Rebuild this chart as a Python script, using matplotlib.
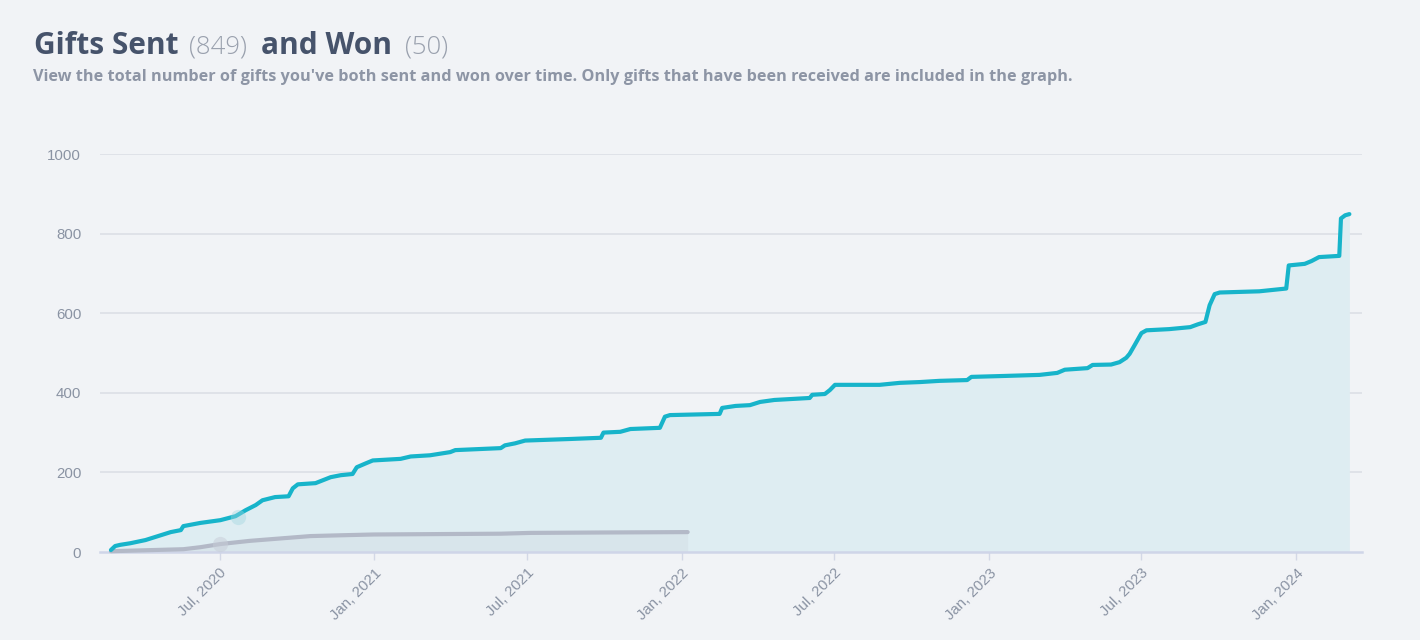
import numpy as np
import pandas as pd
import matplotlib
matplotlib.use("Agg")
import matplotlib.pyplot as plt
import matplotlib.dates as mdates

BG = "#f1f3f6"
SENT_COLOR = "#17b4ca"
WON_COLOR = "#b3b9c7"
TICK_COLOR = "#8a93a3"

# cumulative gifts sent
sent_dates = [
    "2020-02-23", "2020-02-28", "2020-03-05", "2020-03-17", "2020-04-04",
    "2020-04-22", "2020-05-04", "2020-05-16", "2020-05-19", "2020-06-08",
    "2020-07-02", "2020-07-20", "2020-08-01", "2020-08-13", "2020-08-21",
    "2020-09-05", "2020-09-21", "2020-09-26", "2020-10-02", "2020-10-23",
    "2020-11-10", "2020-11-22", "2020-12-06", "2020-12-11", "2020-12-22",
    "2020-12-30", "2021-02-01", "2021-02-13", "2021-03-08", "2021-04-01",
    "2021-04-07", "2021-05-31", "2021-06-05", "2021-06-17", "2021-06-29",
    "2021-08-22", "2021-09-27", "2021-09-30", "2021-10-20", "2021-11-01",
    "2021-12-06", "2021-12-12", "2021-12-18", "2022-02-15", "2022-02-18",
    "2022-03-06", "2022-03-23", "2022-04-04", "2022-04-21", "2022-06-02",
    "2022-06-05", "2022-06-20", "2022-06-26", "2022-07-02", "2022-08-24",
    "2022-09-17", "2022-10-11", "2022-11-03", "2022-12-06", "2022-12-11",
    "2023-01-14", "2023-03-02", "2023-03-23", "2023-04-01", "2023-04-28",
    "2023-05-04", "2023-05-26", "2023-06-05", "2023-06-13", "2023-06-17",
    "2023-06-23", "2023-07-01", "2023-07-07", "2023-08-03", "2023-08-28",
    "2023-09-06", "2023-09-15", "2023-09-20", "2023-09-26", "2023-10-02",
    "2023-11-18", "2023-12-20", "2023-12-23", "2024-01-11", "2024-01-19",
    "2024-01-28", "2024-02-21", "2024-02-23", "2024-02-28", "2024-03-04",
]
sent_total = [
    5, 15, 18, 22, 30,
    42, 50, 55, 65, 73,
    80, 90, 105, 118, 130,
    138, 140, 160, 170, 173,
    188, 193, 196, 213, 223,
    230, 234, 240, 243, 251,
    256, 261, 268, 273, 280,
    284, 287, 300, 302, 309,
    312, 340, 344, 347, 362,
    367, 369, 377, 382, 387,
    395, 397, 407, 420, 420,
    425, 427, 430, 432, 440,
    442, 445, 450, 458, 462,
    470, 471, 477, 488, 498,
    520, 550, 557, 560, 565,
    572, 578, 620, 648, 652,
    655, 662, 720, 724, 731,
    741, 744, 838, 846, 849,
]

# cumulative gifts won
won_dates = [
    "2020-02-23", "2020-05-19", "2020-06-08", "2020-07-02", "2020-08-06",
    "2020-09-11", "2020-10-17", "2020-11-22", "2020-12-31", "2021-05-31",
    "2021-07-05", "2021-09-27", "2022-01-08",
]
won_total = [2, 7, 12, 20, 28, 34, 40, 42, 44, 46, 48, 49, 50]

# faint hover dots visible on the chart
hover_sent = ("2020-07-23", 88)
hover_won = ("2020-07-02", 20)

sent_x = pd.to_datetime(sent_dates)
won_x = pd.to_datetime(won_dates)

fig = plt.figure(figsize=(14.2, 6.4), dpi=100, facecolor=BG)
ax = fig.add_axes([100 / 1420, 1 - 552 / 640, 1262 / 1420, 398 / 640])
ax.set_facecolor(BG)

ax.fill_between(sent_x, sent_total, 0, color="#deedf2", lw=0, zorder=1)
ax.fill_between(won_x, won_total, 0, color="#d6e2e9", lw=0, alpha=0.7, zorder=2)

ax.plot(won_x, won_total, color=WON_COLOR, lw=3.0, solid_capstyle="round",
        solid_joinstyle="round", zorder=4, clip_on=False)
ax.plot(sent_x, sent_total, color=SENT_COLOR, lw=3.0, solid_capstyle="round",
        solid_joinstyle="round", zorder=5, clip_on=False)

ax.plot(pd.to_datetime(hover_sent[0]), hover_sent[1], "o", ms=11,
        color="#9fd6e0", alpha=0.4, mec="none", zorder=6)
ax.plot(pd.to_datetime(hover_won[0]), hover_won[1], "o", ms=11,
        color="#c7cdd8", alpha=0.5, mec="none", zorder=6)

ax.set_xlim(pd.Timestamp("2020-02-10"), pd.Timestamp("2024-03-19"))
ax.set_ylim(0, 1000)

for s in ax.spines.values():
    s.set_visible(False)

ax.set_yticks([0, 200, 400, 600, 800, 1000])
for yv in [200, 400, 600, 800, 1000]:
    ax.axhline(yv, color="#dcdfe6", lw=1.2, zorder=0)
ax.axhline(0, color="#cfd5e8", lw=1.8, zorder=3, clip_on=False)

xt = pd.to_datetime(["2020-07-01", "2021-01-01", "2021-07-01", "2022-01-01",
                     "2022-07-01", "2023-01-01", "2023-07-01", "2024-01-01"])
ax.set_xticks(xt)
ax.set_xticklabels([d.strftime("%b, %Y") for d in xt])
ax.tick_params(axis="x", length=6, width=1, color="#d3d8e6", pad=4,
               labelsize=10.8, labelcolor=TICK_COLOR)
ax.tick_params(axis="y", length=0, pad=13.5, labelsize=10.8, labelcolor=TICK_COLOR)
for lab in ax.get_xticklabels():
    lab.set_rotation(45)
    lab.set_ha("right")
    lab.set_va("top")
    lab.set_rotation_mode("anchor")
    lab.set_fontfamily("Liberation Sans")
for lab in ax.get_yticklabels():
    lab.set_fontfamily("Liberation Sans")

# title pieces
ty = 1 - 54 / 640
fig.text(34 / 1420, ty, "Gifts Sent", fontsize=21.5, fontweight="bold",
         family="Open Sans", color="#46536b", va="baseline")
fig.text(189 / 1420, ty, "(849)", fontsize=18.5, fontweight="light",
         family="Open Sans", color="#9aa1ae", va="baseline")
fig.text(261 / 1420, ty, "and Won", fontsize=21.5, fontweight="bold",
         family="Open Sans", color="#46536b", va="baseline")
fig.text(405 / 1420, ty, "(50)", fontsize=18.5, fontweight="light",
         family="Open Sans", color="#9aa1ae", va="baseline")
fig.text(33 / 1420, 1 - 81 / 640,
         "View the total number of gifts you've both sent and won over time. "
         "Only gifts that have been received are included in the graph.",
         fontsize=11.7, fontweight="bold", family="Open Sans", color="#8d95a5",
         va="baseline")

fig.savefig("out.png", dpi=100, facecolor=BG)
